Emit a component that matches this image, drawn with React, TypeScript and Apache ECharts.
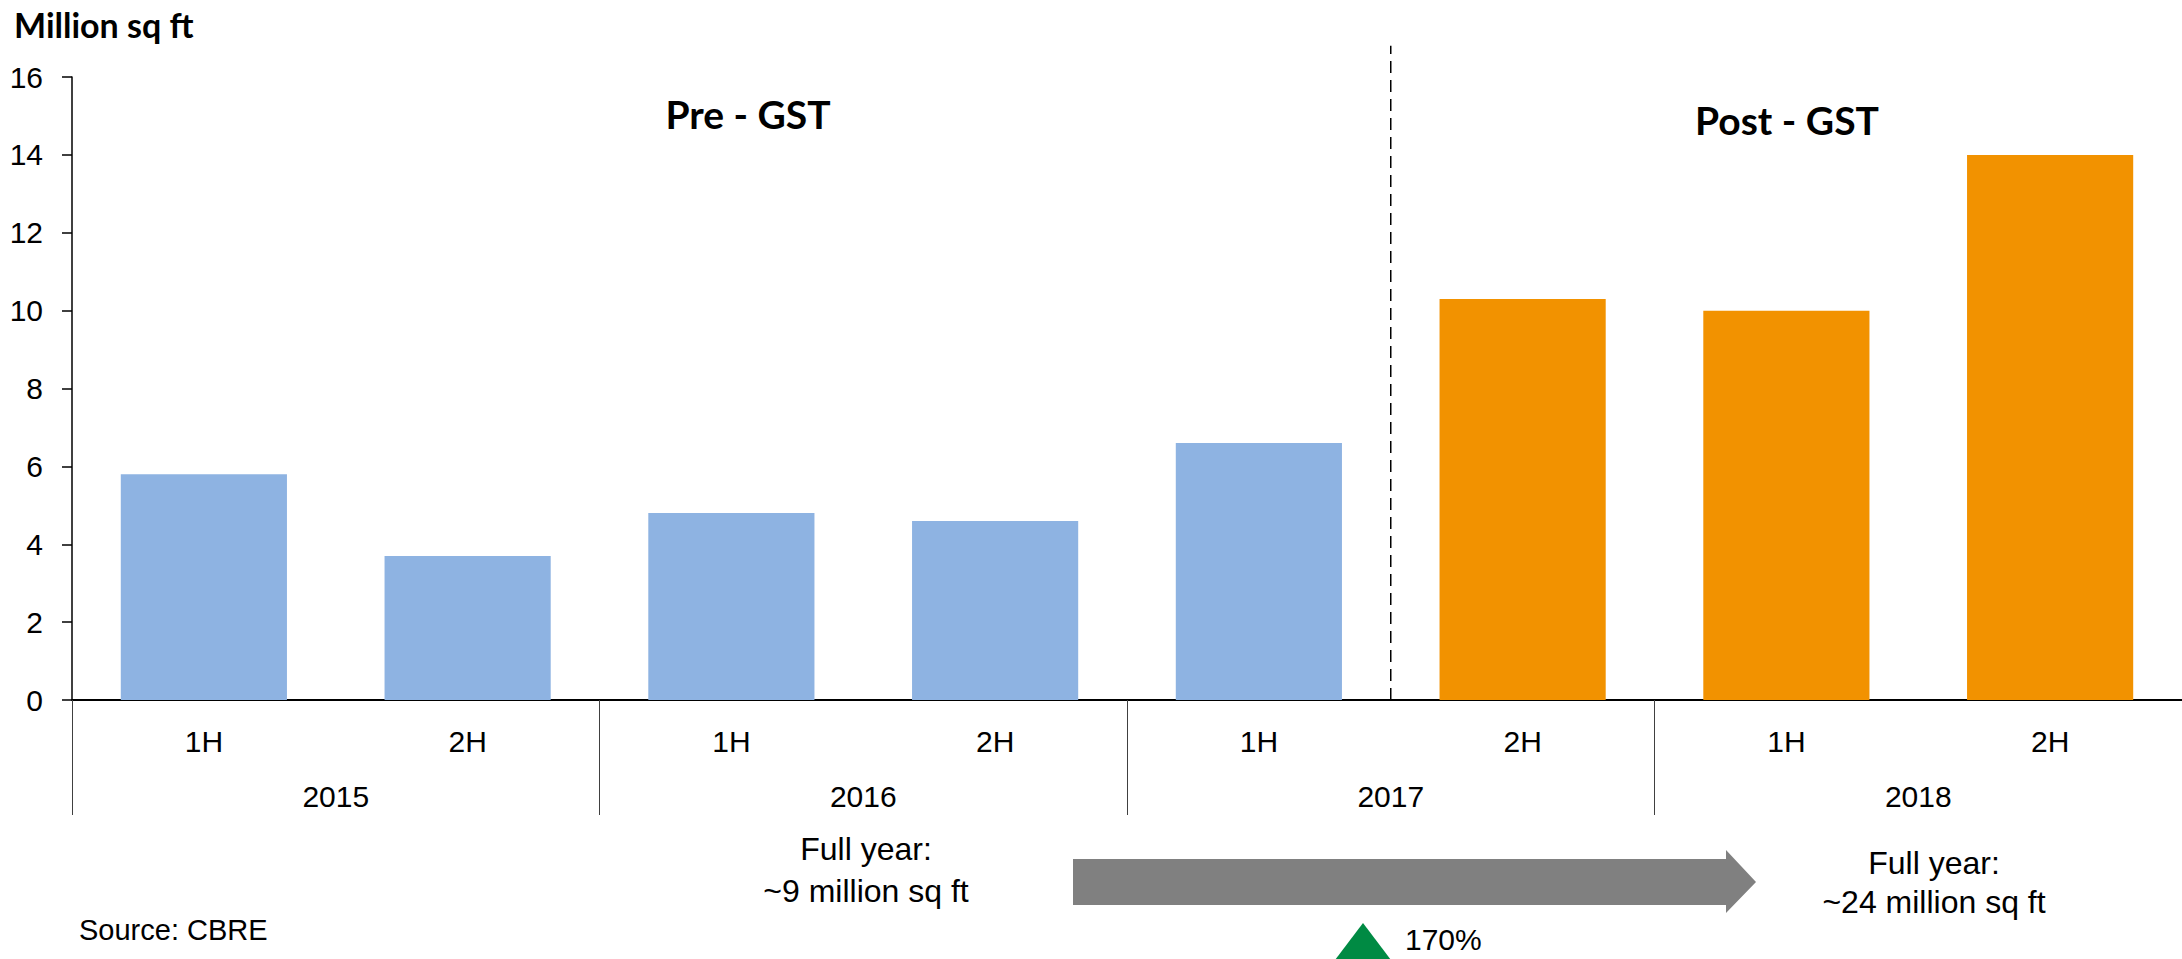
import React, { useEffect, useRef } from "react";
import * as echarts from "echarts";

const halves = ["1H", "2H", "1H", "2H", "1H", "2H", "1H", "2H"];
const years = ["2015", "2016", "2017", "2018"];
const preGst = [5.8, 3.7, 4.8, 4.6, 6.6, null, null, null];
const postGst = [null, null, null, null, null, 10.3, 10.0, 14.0];
const gstDividerIndex = 5;
const dividerTop = 16.8;
const yMin = 0;
const yMax = 16;
const yInterval = 2;

const BLUE = "#8EB3E2";
const ORANGE = "#F29200";
const FONT = "'Liberation Sans Narrow', 'Liberation Sans', sans-serif";
const BOLD_FONT = "Lato, 'Liberation Sans', sans-serif";

export default function App() {
  const ref = useRef<HTMLDivElement>(null);
  useEffect(() => {
    if (!ref.current) return;
    const chart = echarts.init(ref.current, undefined, { renderer: "svg" });
    const toSeries = (arr: (number | null)[]) => arr.map((v) => (v == null ? "-" : v));
    chart.setOption({
      animation: false,
      backgroundColor: "#fff",
      grid: { left: 72, top: 77, bottom: 259, right: -5, containLabel: false },
      xAxis: [
        {
          type: "category",
          data: halves,
          position: "bottom",
          axisLine: { show: true, lineStyle: { color: "#000", width: 2 } },
          axisTick: { show: false },
          axisLabel: { margin: 26, fontSize: 30, color: "#000", fontFamily: FONT, interval: 0 },
          splitLine: { show: false },
        },
        {
          type: "category",
          data: years,
          position: "bottom",
          axisLine: { show: false },
          axisTick: { show: true, length: 115, interval: 0, lineStyle: { color: "#404040", width: 1 } },
          axisLabel: { margin: 81, fontSize: 30, color: "#000", fontFamily: FONT, interval: 0 },
          splitLine: { show: false },
        },
        {
          type: "value",
          min: 0,
          max: halves.length,
          show: false,
          position: "bottom",
          splitLine: { show: false },
        },
      ],
      yAxis: {
        type: "value",
        min: yMin,
        max: yMax,
        interval: yInterval,
        axisLine: { show: true, lineStyle: { color: "#000", width: 1.5 } },
        axisTick: { show: true, inside: false, length: 10, lineStyle: { color: "#000", width: 1.5 } },
        axisLabel: { margin: 29, fontSize: 30, color: "#000", fontFamily: FONT },
        splitLine: { show: false },
      },
      series: [
        {
          name: "Pre - GST",
          type: "bar",
          stack: "total",
          xAxisIndex: 0,
          data: toSeries(preGst),
          barCategoryGap: "37%",
          itemStyle: { color: BLUE },
        },
        {
          name: "Post - GST",
          type: "bar",
          stack: "total",
          xAxisIndex: 0,
          data: toSeries(postGst),
          barCategoryGap: "37%",
          itemStyle: { color: ORANGE },
        },
        {
          name: "GST divider",
          type: "line",
          xAxisIndex: 2,
          data: [
            [gstDividerIndex, 0],
            [gstDividerIndex, dividerTop],
          ],
          clip: false,
          symbol: "none",
          lineStyle: { color: "#000", width: 1.5, type: [12, 7] },
          z: 5,
        },
      ],
      graphic: [
        {
          type: "text",
          x: 14,
          y: 24,
          style: { text: "Million sq ft", font: `bold 34px ${BOLD_FONT}`, fill: "#000", align: "left", verticalAlign: "middle" },
        },
        {
          type: "text",
          x: 748,
          y: 114,
          style: { text: "Pre - GST", font: `bold 39px ${BOLD_FONT}`, fill: "#000", align: "center", verticalAlign: "middle" },
        },
        {
          type: "text",
          x: 1787,
          y: 120,
          style: { text: "Post - GST", font: `bold 39px ${BOLD_FONT}`, fill: "#000", align: "center", verticalAlign: "middle" },
        },
        {
          type: "text",
          x: 866,
          y: 849,
          style: { text: "Full year:", font: `32px ${FONT}`, fill: "#000", align: "center", verticalAlign: "middle" },
        },
        {
          type: "text",
          x: 866,
          y: 891,
          style: { text: "~9 million sq ft", font: `32px ${FONT}`, fill: "#000", align: "center", verticalAlign: "middle" },
        },
        {
          type: "text",
          x: 1934,
          y: 863,
          style: { text: "Full year:", font: `32px ${FONT}`, fill: "#000", align: "center", verticalAlign: "middle" },
        },
        {
          type: "text",
          x: 1934,
          y: 902,
          style: { text: "~24 million sq ft", font: `32px ${FONT}`, fill: "#000", align: "center", verticalAlign: "middle" },
        },
        {
          type: "polygon",
          shape: {
            points: [
              [1073, 859],
              [1726, 859],
              [1726, 850],
              [1756, 882],
              [1726, 913],
              [1726, 905],
              [1073, 905],
            ],
          },
          style: { fill: "#808080" },
        },
        {
          type: "polygon",
          shape: {
            points: [
              [1363, 923],
              [1394, 964],
              [1332, 964],
            ],
          },
          style: { fill: "#008A43" },
        },
        {
          type: "text",
          x: 1405,
          y: 939,
          style: { text: "170%", font: `30px ${FONT}`, fill: "#000", align: "left", verticalAlign: "middle" },
        },
        {
          type: "text",
          x: 79,
          y: 930,
          style: { text: "Source: CBRE", font: `29px ${FONT}`, fill: "#000", align: "left", verticalAlign: "middle" },
        },
      ],
    });
    return () => chart.dispose();
  }, []);
  return (
    <div
      ref={ref}
      style={{ position: "fixed", left: 0, top: 0, width: 2182, height: 959, background: "#fff" }}
    />
  );
}
